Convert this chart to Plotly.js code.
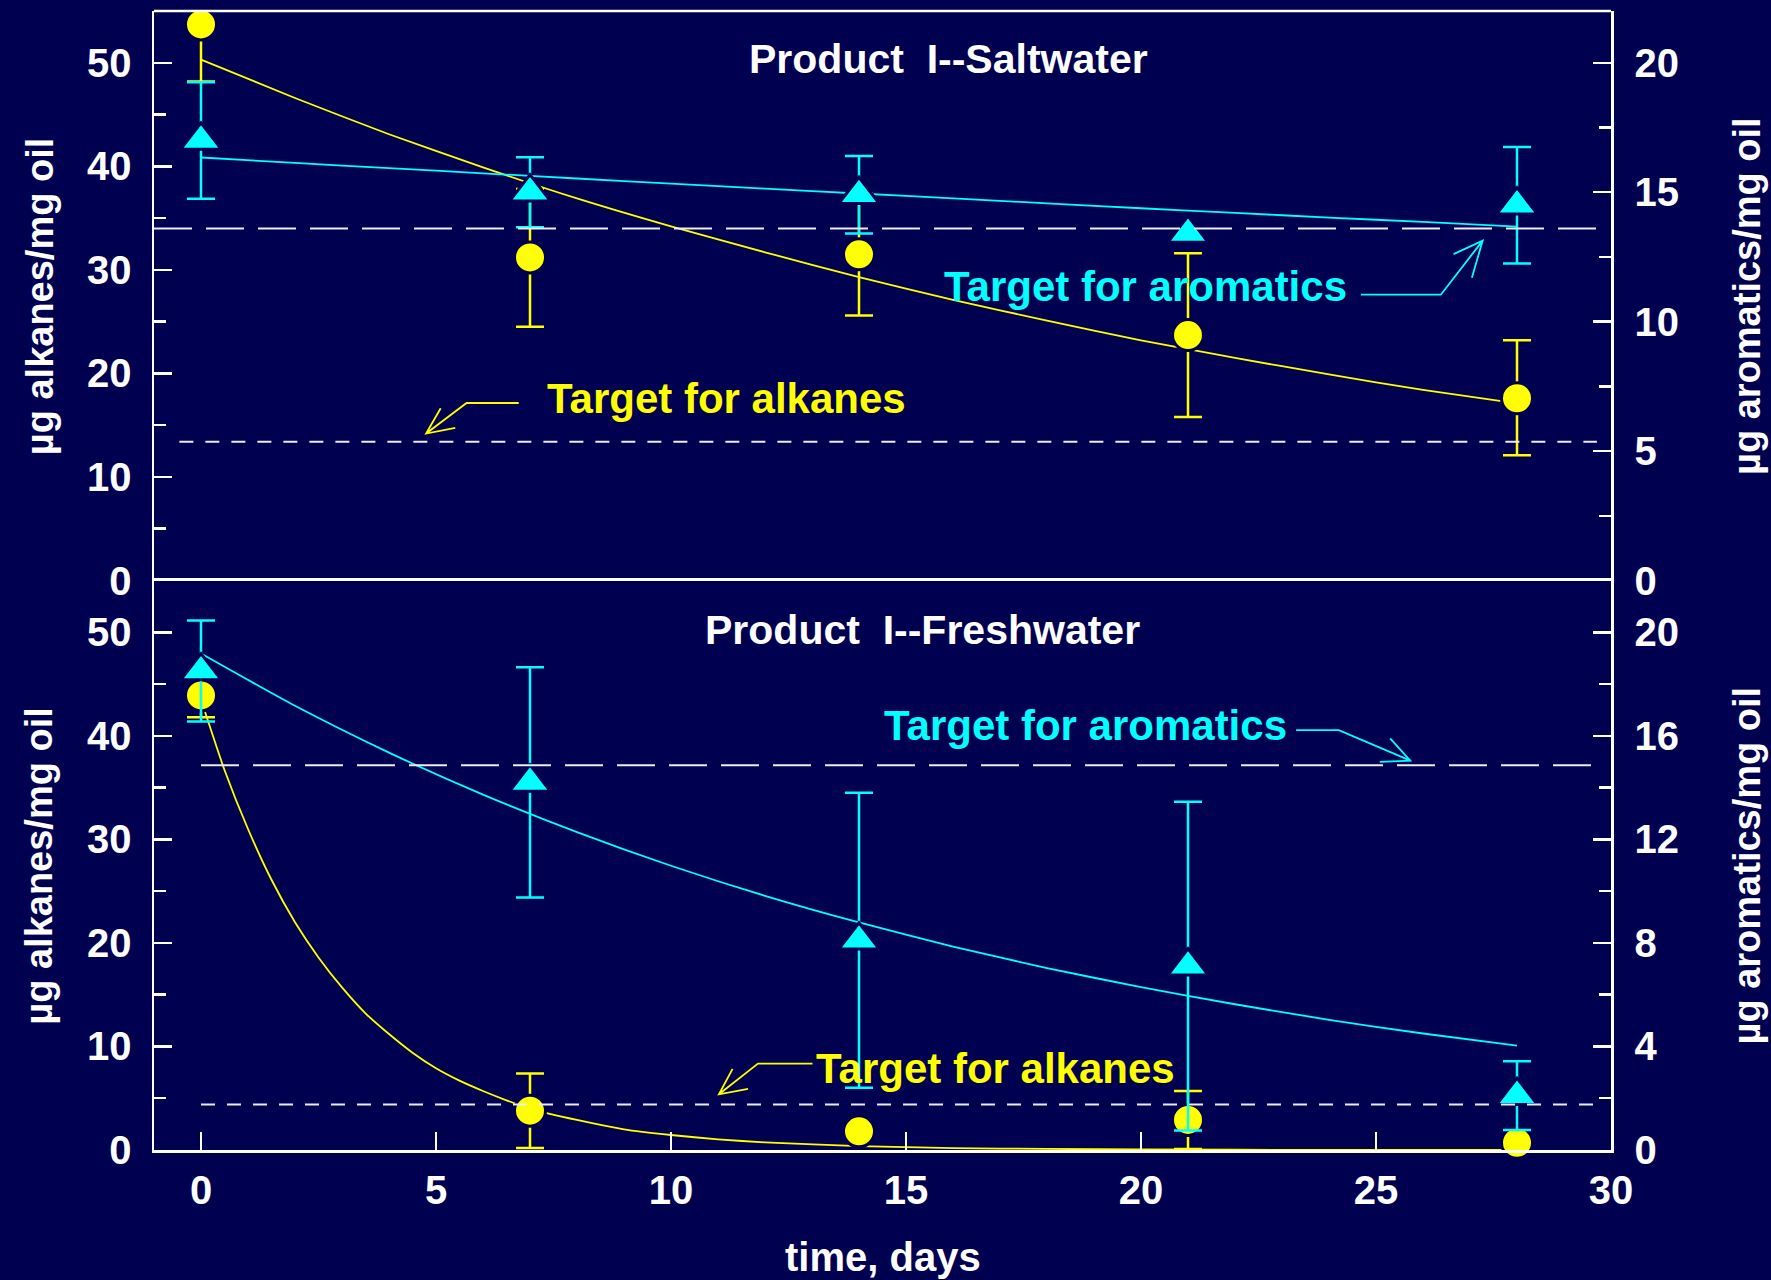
<!DOCTYPE html>
<html>
<head>
<meta charset="utf-8">
<script src="https://cdn.plot.ly/plotly-3.0.1.min.js"></script>
<style>html,body{margin:0;padding:0;background:#000050;}</style>
</head>
<body>
<div id="chart" style="width:1771px;height:1280px;"></div>
<script>
// ---------- data ----------
const days = [0, 7, 14, 21, 28];

// Product I -- Saltwater (top panel)
const saltAlkanes = [53.7, 31.2, 31.5, 23.7, 17.6];            // µg alkanes / mg oil
const saltAlkanesErrPlus = [0, 6.6, 5.9, 7.9, 5.6];
const saltAlkanesErrMinus = [5.5, 6.7, 5.9, 7.9, 5.5];
const saltAromatics = [17.0, 15.0, 14.9, 13.4, 14.5];          // µg aromatics / mg oil
const saltAromaticsErr = [2.25, 1.35, 1.5, 0, 2.25];

const saltFitDays = [0, 2, 4, 6, 8, 10, 12, 14, 16, 18, 20, 22, 24, 26, 28];
const saltAlkanesFit = [50.3, 46.6, 43.1, 39.9, 36.9, 34.2, 31.7, 29.3, 27.1, 25.1, 23.2, 21.5, 19.9, 18.4, 17.1];
const saltAromaticsFit = [16.34, 16.13, 15.93, 15.73, 15.53, 15.33, 15.14, 14.95, 14.76, 14.57, 14.38, 14.2, 14.02, 13.85, 13.67];

const saltAlkaneTarget = 13.4;     // left axis
const saltAromaticTarget = 13.6;   // right axis

// Product I -- Freshwater (bottom panel)
const freshAlkanes = [43.9, 3.8, 1.8, 2.9, 0.7];
const freshAlkanesErr = [2.1, 3.6, 0, 2.8, 0];
const freshAromatics = [18.5, 14.2, 8.1, 7.1, 2.1];
const freshAromaticsErr = [1.95, 4.45, 5.7, 6.35, 1.33];

const freshAlkFitDays = [0, 0.5, 1, 1.5, 2, 2.5, 3, 3.5, 4, 4.5, 5, 5.5, 6, 6.5, 7, 8, 9, 10, 11, 12, 14, 16, 18, 20, 24, 28];
const freshAlkanesFit = [43.5, 36.7, 31.0, 26.1, 22.0, 18.6, 15.7, 13.2, 11.2, 9.4, 7.9, 6.7, 5.7, 4.8, 4.0, 2.9, 2.0, 1.45, 1.03, 0.74, 0.37, 0.19, 0.10, 0.05, 0.01, 0.0];
const freshAroFitDays = [0, 2, 4, 6, 8, 10, 12, 14, 16, 18, 20, 22, 24, 26, 28];
const freshAromaticsFit = [19.18, 17.16, 15.35, 13.73, 12.28, 10.98, 9.82, 8.79, 7.86, 7.03, 6.29, 5.63, 5.03, 4.5, 4.03];

const freshAlkaneTarget = 4.4;     // left axis
const freshAromaticTarget = 14.86; // right axis

// text
const titleSalt = 'Product  I--Saltwater';
const titleFresh = 'Product  I--Freshwater';
const labelAroTarget = 'Target for aromatics';
const labelAlkTarget = 'Target for alkanes';
const yLeftTitle = 'µg alkanes/mg oil';
const yRightTitle = 'µg aromatics/mg oil';
const xTitle = 'time, days';

// ---------- styling ----------
const BG = '#000050';
const YEL = '#ffff00';
const CYA = '#00ffff';
const WHITE = '#ffffff';
const FAM = 'Arial, "Liberation Sans", sans-serif';

function fitTrace(x, y, color, yaxis) {
  return {x: x, y: y, xaxis: 'x', yaxis: yaxis, mode: 'lines', type: 'scatter',
    line: {color: color, width: 1.8, shape: 'spline', smoothing: 0.6}, showlegend: false, hoverinfo: 'skip'};
}
function dataTrace(y, errPlus, errMinus, color, symbol, size, yaxis) {
  return {x: days, y: y, xaxis: 'x', yaxis: yaxis, mode: 'markers', type: 'scatter', cliponaxis: false,
    marker: {symbol: symbol, size: size, color: color, line: {color: BG, width: 3}},
    error_y: {type: 'data', symmetric: false, array: errPlus, arrayminus: errMinus,
      color: color, thickness: 2.5, width: 14},
    showlegend: false};
}

const traces = [
  fitTrace(saltFitDays, saltAlkanesFit, YEL, 'y3'),
  fitTrace(saltFitDays, saltAromaticsFit, CYA, 'y4'),
  fitTrace(freshAlkFitDays, freshAlkanesFit, YEL, 'y'),
  fitTrace(freshAroFitDays, freshAromaticsFit, CYA, 'y2'),
  dataTrace(saltAlkanes, saltAlkanesErrPlus, saltAlkanesErrMinus, YEL, 'circle', 31, 'y3'),
  dataTrace(saltAromatics, saltAromaticsErr, saltAromaticsErr, CYA, 'triangle-up', 35, 'y4'),
  dataTrace(freshAlkanes, freshAlkanesErr, freshAlkanesErr, YEL, 'circle', 31, 'y'),
  dataTrace(freshAromatics, freshAromaticsErr, freshAromaticsErr, CYA, 'triangle-up', 35, 'y2')
];

const tickFont = {family: FAM, size: 40, color: WHITE, weight: 'bold'};
function yAxis(extra) {
  return Object.assign({
    showgrid: false, zeroline: false, showline: true, linecolor: WHITE, linewidth: 2.5,
    ticks: 'inside', ticklen: 18, tickwidth: 2.5, tickcolor: WHITE,
    tickfont: tickFont, anchor: 'x', fixedrange: true
  }, extra);
}

const layout = {
  width: 1771, height: 1280,
  paper_bgcolor: BG, plot_bgcolor: BG,
  margin: {l: 154, r: 160, t: 11, b: 130, pad: 0},
  showlegend: false,
  font: {family: FAM, color: WHITE, weight: 'bold'},
  xaxis: {
    range: [-1, 30], tick0: 0, dtick: 5, anchor: 'y',
    showgrid: false, zeroline: false, showline: true, linecolor: WHITE, linewidth: 2.5, mirror: true,
    ticks: 'inside', ticklen: 18, tickwidth: 2.5, tickcolor: WHITE,
    tickfont: tickFont, ticklabelstandoff: 3
  },
  yaxis: yAxis({domain: [0, 0.5], range: [0, 55], tick0: 0, dtick: 10, ticklabelstandoff: 12,
    minor: {dtick: 5, ticks: 'inside', ticklen: 12, tickwidth: 2.5, tickcolor: WHITE, showgrid: false}}),
  yaxis2: yAxis({overlaying: 'y', side: 'right', range: [0, 22], tick0: 0, dtick: 4, ticklabelstandoff: 13,
    minor: {dtick: 2, ticks: 'inside', ticklen: 12, tickwidth: 2.5, tickcolor: WHITE, showgrid: false}}),
  yaxis3: yAxis({domain: [0.5, 1], range: [0, 55], tick0: 0, dtick: 10, ticklabelstandoff: 12,
    minor: {dtick: 5, ticks: 'inside', ticklen: 12, tickwidth: 2.5, tickcolor: WHITE, showgrid: false}}),
  yaxis4: yAxis({overlaying: 'y3', side: 'right', range: [0, 22], tick0: 0, dtick: 5, ticklabelstandoff: 13,
    minor: {dtick: 2.5, ticks: 'inside', ticklen: 12, tickwidth: 2.5, tickcolor: WHITE, showgrid: false}}),
  shapes: [
    // top frame line of the upper panel
    {type: 'line', xref: 'paper', yref: 'paper', x0: 0, x1: 1, y0: 1, y1: 1,
      line: {color: WHITE, width: 2.5}},
    // target reference lines
    {type: 'line', xref: 'x', yref: 'y4', x0: -1, x1: 29.7, y0: saltAromaticTarget, y1: saltAromaticTarget,
      line: {color: '#ececf8', width: 2, dash: '38px,14px'}},
    {type: 'line', xref: 'x', yref: 'y3', x0: -0.46, x1: 29.7, y0: saltAlkaneTarget, y1: saltAlkaneTarget,
      line: {color: '#ececf8', width: 2, dash: '14px,12px'}},
    {type: 'line', xref: 'x', yref: 'y2', x0: 0, x1: 29.7, y0: freshAromaticTarget, y1: freshAromaticTarget,
      line: {color: '#ececf8', width: 2, dash: '38px,14px'}},
    {type: 'line', xref: 'x', yref: 'y', x0: 0, x1: 29.7, y0: freshAlkaneTarget, y1: freshAlkaneTarget,
      line: {color: '#ececf8', width: 2, dash: '14px,12px'}},
    // leader arrows
    {type: 'path', xref: 'x', yref: 'y4', line: {color: CYA, width: 1.8},
      path: 'M24.68,11.04 L26.38,11.04 L27.27,13.13 M26.65,12.61 L27.27,13.13 L27.04,11.70'},
    {type: 'path', xref: 'x', yref: 'y3', line: {color: YEL, width: 1.8},
      path: 'M6.76,17.14 L5.65,17.14 L4.79,14.19 M5.10,16.63 L4.79,14.19 L5.41,14.74'},
    {type: 'path', xref: 'x', yref: 'y2', line: {color: CYA, width: 1.8},
      path: 'M23.30,16.22 L24.21,16.22 L25.73,15.04 M25.30,15.90 L25.73,15.04 L25.08,14.99'},
    {type: 'path', xref: 'x', yref: 'y', line: {color: YEL, width: 1.8},
      path: 'M13.01,8.35 L11.85,8.35 L11.02,5.38 M11.31,7.84 L11.02,5.38 L11.64,5.90'}
  ],
  annotations: [
    {text: titleSalt, xref: 'x', yref: 'y3', x: 15.9, y: 50.38, showarrow: false,
      font: {family: FAM, size: 41, color: WHITE, weight: 'bold'}},
    {text: titleFresh, xref: 'x', yref: 'y', x: 15.36, y: 50.23, showarrow: false,
      font: {family: FAM, size: 41, color: WHITE, weight: 'bold'}},
    {text: labelAroTarget, xref: 'x', yref: 'y4', x: 20.09, y: 11.36, showarrow: false,
      font: {family: FAM, size: 42, color: CYA, weight: 'bold'}},
    {text: labelAlkTarget, xref: 'x', yref: 'y3', x: 11.18, y: 17.57, showarrow: false,
      font: {family: FAM, size: 42, color: YEL, weight: 'bold'}},
    {text: labelAroTarget, xref: 'x', yref: 'y2', x: 18.81, y: 16.38, showarrow: false,
      font: {family: FAM, size: 42, color: CYA, weight: 'bold'}},
    {text: labelAlkTarget, xref: 'x', yref: 'y', x: 16.91, y: 7.89, showarrow: false,
      font: {family: FAM, size: 42, color: YEL, weight: 'bold'}},
    // axis titles
    {text: yLeftTitle, xref: 'paper', yref: 'paper', x: -0.0786, y: 0.75, textangle: -90, showarrow: false,
      xanchor: 'center', yanchor: 'middle', font: {family: FAM, size: 38, color: WHITE, weight: 'bold'}},
    {text: yLeftTitle, xref: 'paper', yref: 'paper', x: -0.0786, y: 0.25, textangle: -90, showarrow: false,
      xanchor: 'center', yanchor: 'middle', font: {family: FAM, size: 38, color: WHITE, weight: 'bold'}},
    {text: yRightTitle, xref: 'paper', yref: 'paper', x: 1.0935, y: 0.75, textangle: -90, showarrow: false,
      xanchor: 'center', yanchor: 'middle', font: {family: FAM, size: 38, color: WHITE, weight: 'bold'}},
    {text: yRightTitle, xref: 'paper', yref: 'paper', x: 1.0935, y: 0.25, textangle: -90, showarrow: false,
      xanchor: 'center', yanchor: 'middle', font: {family: FAM, size: 38, color: WHITE, weight: 'bold'}},
    {text: xTitle, xref: 'paper', yref: 'paper', x: 0.5, y: -0.094, showarrow: false,
      xanchor: 'center', yanchor: 'middle', font: {family: FAM, size: 40, color: WHITE, weight: 'bold'}}
  ]
};

Plotly.newPlot('chart', traces, layout, {staticPlot: true, displayModeBar: false});
</script>
</body>
</html>
